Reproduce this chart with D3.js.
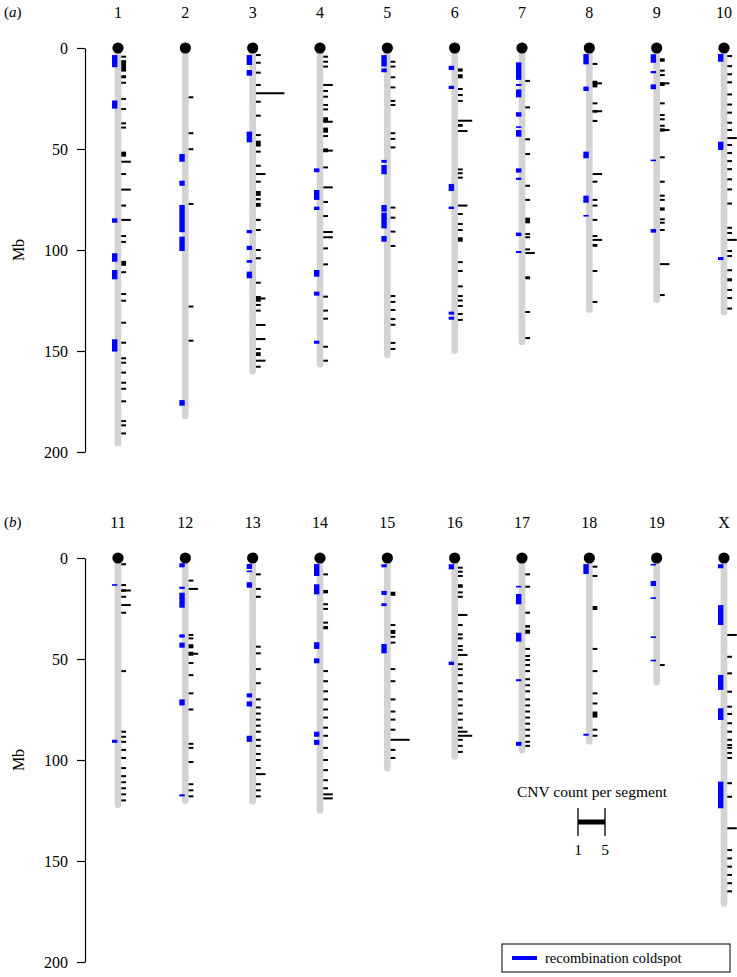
<!DOCTYPE html>
<html><head><meta charset="utf-8">
<script src="https://cdn.jsdelivr.net/npm/d3@7"></script>
<style>body{margin:0;background:#fff}</style>
</head><body>
<svg id="c" width="737" height="977"></svg>
<script>
const panelAChroms = ["1","2","3","4","5","6","7","8","9","10"];
const panelBChroms = ["11","12","13","14","15","16","17","18","19","X"];
const chromNames = panelAChroms.concat(panelBChroms);
const chromLengths = [195.5,182.1,160.0,156.5,151.8,149.7,145.4,129.4,124.6,130.7,122.1,120.1,120.4,124.9,104.0,98.2,95.0,90.7,61.4,171.0];
const axisTicks = [0,50,100,150,200];
const legendCounts = [1,5];

// recombination coldspots: [chrom, start Mb, end Mb]
const coldspots = [
["1",3.5,9.5],["1",26,30],["1",84.3,86.5],["1",101.6,105.8],["1",109.9,114.5],["1",144.2,150.3],
["2",52.5,56.3],["2",65.7,68.2],["2",77.7,91.2],["2",93.4,100.5],["2",174.3,177.1],
["3",3.5,8.4],["3",10.9,13.7],["3",41.4,46.7],["3",90.1,91.7],["3",97.9,100],["3",105,106.3],["3",110.7,114],
["4",59.6,61.5],["4",70.3,75.2],["4",78.5,80.2],["4",109.9,113.2],["4",120.6,122.6],["4",144.9,146.4],
["5",3.5,9.2],["5",10.1,12],["5",55.4,56.8],["5",57.9,62.5],["5",77.7,81],["5",81.5,89.3],["5",93.1,95.9],
["6",8.8,10.9],["6",18.7,20.3],["6",67.3,70.8],["6",78.5,79.7],["6",130.5,132],["6",133,134.5],
["7",7.1,15.8],["7",17.8,18.8],["7",20.5,24.4],["7",31.8,34],["7",38.9,39.4],["7",40.6,43.9],["7",59.6,61.7],["7",64.2,65.3],["7",91.4,93.1],["7",100.5,101.5],
["8",3,8.1],["8",19.1,21.3],["8",51.3,54.6],["8",73.1,76.6],["8",82.8,83.3],
["9",3.1,7.3],["9",11.4,12.5],["9",18,20.4],["9",55.4,55.9],["9",89.6,91.4],
["10",3,6.8],["10",46.4,50.5],["10",103.5,105],
["11",13,13.7],["11",90,91.5],
["12",2.6,4.6],["12",14.2,15.3],["12",17.2,24.6],["12",37.8,39.4],["12",41.9,44.4],["12",70,73],["12",117,118],
["13",3,5.4],["13",6.3,6.9],["13",12,14.7],["13",67,69],["13",71,73.5],["13",88,91],
["14",3,8.9],["14",13,18],["14",41.7,45],["14",49.7,52.1],["14",86,88.5],["14",90,92.5],
["15",3.1,4.6],["15",16.3,18.3],["15",22.4,23.8],["15",42.6,47.2],
["16",3.1,5.6],["16",51.3,53],
["17",13.9,14.5],["17",17.8,22.9],["17",37,41.4],["17",60,61],["17",91,93],
["18",3,7.9],["18",87,88],
["19",3.1,3.5],["19",11.4,13.9],["19",19.7,20],["19",39,39.4],["19",50.5,51],
["X",3.1,5.1],["X",23.3,33.2],["X",57.9,65.3],["X",74.4,80.2],["X",110.7,123.9]
];

// CNV segments: [chrom, start Mb, end Mb, count]
const cnvs = [
["1",4.3,4.3,1],["1",6,11.7,1],["1",13.5,15,1],["1",17.2,17.2,1],["1",25.2,25.2,1],["1",30.2,30.2,1],["1",37.3,37.3,1],["1",39.4,39.4,1],["1",51.3,53.8,1],["1",56.3,56.3,2],["1",62.4,62.4,1],["1",70.1,70.1,2],["1",78,78,1],["1",85.1,85.1,2],["1",93.1,93.1,1],["1",96,96,1],["1",105.4,107.8,1],["1",111,111,1],["1",121.8,121.8,1],["1",125.1,125.1,1],["1",136,136,1],["1",145.9,145.9,1],["1",153.6,153.6,1],["1",155.8,155.8,1],["1",160.7,160.7,1],["1",165.7,165.7,1],["1",168.7,168.7,1],["1",174.9,174.9,1],["1",184.7,184.7,1],["1",186.8,186.8,1],["1",190.8,190.8,1],
["2",24.4,24.4,1],["2",42.2,42.2,1],["2",50.1,50.1,1],["2",77.2,77.2,1],["2",128,128,1],["2",144.9,144.9,1],
["3",3.5,3.5,1],["3",7.3,7.3,1],["3",12.2,12.2,1],["3",18.3,18.3,1],["3",22.4,22.4,6],["3",26.6,26.6,1],["3",33.5,33.5,1],["3",43.1,43.1,1],["3",45.9,48.8,1],["3",51.3,51.3,1],["3",58.3,58.3,1],["3",62.4,62.4,2],["3",66.2,66.2,1],["3",70.8,73.2,1],["3",74.3,75.4,1],["3",76.7,78.6,1],["3",85.1,85.1,1],["3",90.1,90.1,1],["3",100,100,1],["3",104.1,104.1,1],["3",116.2,116.2,1],["3",122.8,125.6,1],["3",124,124,2],["3",127.2,127.2,1],["3",130,130,1],["3",137.1,137.1,2],["3",144.1,144.1,2],["3",149,149,1],["3",150.6,152.5,1],["3",154.8,154.8,2],["3",157.8,157.8,1],
["4",4.3,4.3,1],["4",6.8,6.8,1],["4",9.2,9.2,1],["4",18.3,18.3,2],["4",21.3,21.3,1],["4",24.1,24.1,1],["4",28.2,28.2,1],["4",30.4,30.4,1],["4",34.3,36.8,1],["4",36.5,36.5,2],["4",39.4,41.9,1],["4",43.6,43.6,1],["4",49.7,51.6,1],["4",50.8,50.8,2],["4",59.1,59.1,1],["4",69,69,2],["4",76.2,76.2,1],["4",83.2,83.2,1],["4",91.1,91.1,2],["4",93.7,93.7,2],["4",99.2,99.2,1],["4",107.1,107.1,1],["4",123.1,123.1,1],["4",130,130,1],["4",134,134,1],["4",147.9,147.9,1],["4",154.8,154.8,1],
["5",6.8,6.8,1],["5",9.2,9.2,1],["5",14.5,14.5,1],["5",19.5,19.5,1],["5",26.2,26.2,1],["5",28.2,28.2,1],["5",42.2,42.2,1],["5",45,45,1],["5",49.2,49.2,1],["5",79,79,1],["5",84,84,1],["5",90.9,90.9,1],["5",98,98,1],["5",122.8,122.8,1],["5",125.7,125.7,1],["5",129.7,129.7,1],["5",134.2,134.2,1],["5",137,137,1],["5",146,146,1],["5",149,149,1],
["6",10.1,11.7,1],["6",13,15,1],["6",20.3,20.3,1],["6",23.3,23.3,1],["6",26.2,26.2,1],["6",36,36,3],["6",37.6,39,1],["6",41.1,41.1,2],["6",60.1,60.1,1],["6",62,62,1],["6",64.2,64.2,1],["6",78,78,2],["6",82.2,82.2,1],["6",87.1,87.1,1],["6",90.1,90.1,1],["6",93.7,95.9,1],["6",106,106,1],["6",110.4,110.4,1],["6",118,118,1],["6",122.8,122.8,1],["6",125,125,1],["6",127.7,127.7,1],["6",131.7,131.7,1],["6",134.6,134.6,1],
["7",16.3,16.3,1],["7",29.4,29.4,1],["7",45.2,45.2,1],["7",52.5,52.5,1],["7",68.2,68.2,1],["7",75.2,75.2,1],["7",84,86.8,1],["7",92.1,92.1,1],["7",93.7,93.7,1],["7",99.7,99.7,1],["7",101.5,101.5,2],["7",113,114.5,1],["7",130.7,130.7,1],["7",143.6,143.6,1],
["8",7.9,7.9,1],["8",16.2,19.5,1],["8",17.5,17.5,2],["8",27.4,27.4,1],["8",30.7,32,1],["8",31.3,31.3,2],["8",36.1,36.1,1],["8",62.4,62.4,2],["8",66.2,66.2,1],["8",75.2,75.2,1],["8",78,78,1],["8",85.1,85.1,1],["8",93.1,93.1,1],["8",95,95,2],["8",97,98.4,1],["8",110.4,110.4,1],["8",125.7,125.7,1],
["9",5.1,6.8,1],["9",11.2,11.2,1],["9",13.4,13.4,1],["9",17,18.8,1],["9",17.5,17.5,2],["9",27.4,27.4,1],["9",33.2,33.2,1],["9",35.3,35.3,1],["9",38.5,38.5,1],["9",39.8,41.4,1],["9",40.6,40.6,2],["9",54.1,54.1,1],["9",66.2,66.2,1],["9",73.1,73.1,1],["9",75.2,75.2,1],["9",78.9,80.5,1],["9",84.8,84.8,1],["9",86.5,86.5,1],["9",90.1,90.1,1],["9",107,107,2],["9",122.3,122.3,1],
["10",4,4,1],["10",9,9,1],["10",13,13,1],["10",17,17,1],["10",23,23,1],["10",28,28,1],["10",32,32,1],["10",37,37,1],["10",40.6,40.6,1],["10",44.6,44.6,2],["10",48,48,1],["10",52,52,1],["10",56,56,1],["10",60,60,1],["10",65,65,1],["10",70,70,1],["10",77,77,1],["10",89,89,1],["10",91.6,91.6,1],["10",95,95,2],["10",100.5,100.5,1],["10",103,103,1],["10",110,110,1],["10",114,115.5,1],["10",119.8,119.8,1],["10",123.8,123.8,1],["10",129,129,1],
["11",3.1,3.1,1],["11",13.4,13.4,1],["11",15.5,16.7,1],["11",16.1,16.1,2],["11",19.2,19.2,1],["11",23.3,23.3,2],["11",27.1,27.1,1],["11",56,56,1],["11",86,86,1],["11",88.5,88.5,1],["11",91,91,1],["11",95,95,1],["11",99,99,1],["11",104,104,1],["11",108,108,1],["11",111,111,1],["11",114,114,1],["11",117,117,1],["11",120,120,1],
["12",11.2,11.2,1],["12",15.3,15.3,2],["12",38.1,38.1,1],["12",39.8,39.8,1],["12",42.7,44.7,1],["12",46.4,48.4,1],["12",47.4,47.4,2],["12",52,52,1],["12",58,58,1],["12",67,67,1],["12",75,75,1],["12",92,92,1],["12",94,94,1],["12",101,101,1],["12",112,112,1],["12",115,115,1],["12",118,118,1],
["13",8.1,8.1,1],["13",15.3,15.3,1],["13",19.2,19.2,1],["13",43.9,43.9,1],["13",47.2,47.2,1],["13",55,55,1],["13",62,62,1],["13",70,70,1],["13",74,74,1],["13",77,77,1],["13",80,80,1],["13",83,83,1],["13",86,86,1],["13",90,90,1],["13",93,93,1],["13",97,97,1],["13",100,100,1],["13",104,104,1],["13",107,107,2],["13",112,112,1],["13",115,115,1],["13",118,118,1],
["14",8.1,8.1,1],["14",15.8,17.5,1],["14",22.9,22.9,1],["14",25.2,25.2,1],["14",32,32,1],["14",33.7,35.3,1],["14",56,56,1],["14",61,61,1],["14",66,66,1],["14",70,70,1],["14",75,75,1],["14",79,79,1],["14",84,84,1],["14",88,88,1],["14",94,94,1],["14",100,100,1],["14",105,105,1],["14",110,110,1],["14",114,114,1],["14",117,117,2],["14",119,119,2],
["15",16.7,18.7,1],["15",33.2,33.2,1],["15",35.6,37.6,1],["15",39,39,1],["15",41.9,41.9,1],["15",55,55,1],["15",61,61,1],["15",70,70,1],["15",76,76,1],["15",80,80,1],["15",85,85,1],["15",90,90,4],["15",95,95,1],["15",99,99,1],
["16",4.8,4.8,1],["16",6.8,6.8,1],["16",8.9,8.9,1],["16",13,14.7,1],["16",17,17,1],["16",19.2,19.2,1],["16",28.2,28.2,2],["16",33.2,33.2,1],["16",37.8,37.8,1],["16",39.8,39.8,1],["16",43.6,43.6,1],["16",45.5,45.5,1],["16",47.5,48.5,2],["16",52.6,52.6,1],["16",55,55,1],["16",58,58,1],["16",62,62,1],["16",66,66,1],["16",70,70,1],["16",73,73,1],["16",77,77,1],["16",80,80,1],["16",84,84,1],["16",86,86,2],["16",88,88,3],["16",90,90,1],["16",93,93,1],["16",96,96,1],
["17",8.1,8.1,1],["17",14.2,14.2,1],["17",27.1,27.1,1],["17",33.2,34.5,1],["17",35.5,37.5,1],["17",45,45,1],["17",48.5,48.5,1],["17",50.5,50.5,1],["17",53,53,1],["17",56,56,1],["17",60,60,1],["17",63,63,1],["17",66,66,1],["17",70,70,1],["17",73,73,1],["17",76,76,1],["17",79,79,1],["17",82,82,1],["17",85,85,1],["17",88,88,1],["17",91,91,1],["17",93,93,1],
["18",4.3,4.3,1],["18",8.9,8.9,1],["18",23.8,25.7,1],["18",45,45,1],["18",56,56,1],["18",67,67,1],["18",72,72,1],["18",76,79,1],["18",85,85,1],["18",88,88,1],
["19",53,53,1],
["X",38.1,38.1,2],["X",48.9,48.9,1],["X",57.1,57.1,1],["X",66.2,66.2,1],["X",73.6,73.6,1],["X",77.2,77.2,1],["X",81.8,81.8,1],["X",86,86,1],["X",90,90,1],["X",92.6,92.6,1],["X",94,94,1],["X",96.5,96.5,1],["X",99,99,1],["X",111.5,111.5,1],["X",118.2,118.2,1],["X",133.8,133.8,2],["X",144.6,144.6,1],["X",148.7,148.7,1],["X",152.8,152.8,1],["X",156.9,156.9,1],["X",161,161,1],["X",165,165,1]
];

const FONT = "'Liberation Serif','Times New Roman',serif";
const svg = d3.select("#c");
svg.append("rect").attr("width",737).attr("height",977).attr("fill","#fff");

const lenOf = {};
chromNames.forEach((c,i)=> lenOf[c] = chromLengths[i]);
const cntLen = d3.scaleLinear().domain([0,6]).range([0,28.5]);

const panels = [
  {tag:"a", chroms:panelAChroms, top:48},
  {tag:"b", chroms:panelBChroms, top:558}
];

panels.forEach(p => {
  const y = d3.scaleLinear().domain([0,200]).range([p.top, p.top+404]);
  const x = d3.scalePoint().domain(p.chroms).range([118, 724]);
  const g = svg.append("g");

  const ax = g.append("g").attr("transform","translate(85,0)")
    .call(d3.axisLeft(y).tickValues(axisTicks).tickSize(8).tickSizeOuter(0).tickPadding(9));
  ax.selectAll("path,line").attr("stroke","#000").attr("stroke-width",1.2);
  ax.selectAll("text").attr("font-family",FONT).attr("font-size",16).attr("fill","#000");

  g.append("text").attr("transform",`translate(20,${y(100)}) rotate(-90)`)
    .attr("text-anchor","middle").attr("dominant-baseline","middle")
    .attr("font-family",FONT).attr("font-size",16).text("Mb");

  const tl = g.append("text").attr("x",4).attr("y",p.top-31)
    .attr("font-family",FONT).attr("font-size",15);
  tl.append("tspan").text("(");
  tl.append("tspan").attr("font-style","italic").text(p.tag);
  tl.append("tspan").text(")");

  g.selectAll(".cl").data(p.chroms).join("text")
    .attr("x",d=>x(d)).attr("y",p.top-30)
    .attr("text-anchor","middle").attr("font-family",FONT).attr("font-size",16)
    .text(d=>d);

  g.selectAll(".bar").data(p.chroms).join("line")
    .attr("x1",d=>x(d)).attr("x2",d=>x(d))
    .attr("y1",y(0)).attr("y2",d=>y(lenOf[d]))
    .attr("stroke","#d3d3d3").attr("stroke-width",6.7).attr("stroke-linecap","round");

  g.selectAll(".cs").data(coldspots.filter(d=>p.chroms.includes(d[0]))).join("rect")
    .attr("x",d=>x(d[0])-6).attr("width",5.4)
    .attr("y",d=>{const h=y(d[2])-y(d[1]); return h<1.6? (y(d[1])+y(d[2]))/2-0.8 : y(d[1]);})
    .attr("height",d=>Math.max(1.6,y(d[2])-y(d[1])))
    .attr("fill","#0000ff");

  g.selectAll(".cnv").data(cnvs.filter(d=>p.chroms.includes(d[0]))).join("rect")
    .attr("x",d=>x(d[0])+3.3).attr("width",d=>cntLen(d[3]))
    .attr("y",d=>{const h=y(d[2])-y(d[1]); return h<2? (y(d[1])+y(d[2]))/2-1 : y(d[1]);})
    .attr("height",d=>Math.max(2,y(d[2])-y(d[1])))
    .attr("fill","#000");

  g.selectAll(".cen").data(p.chroms).join("circle")
    .attr("cx",d=>x(d)).attr("cy",y(0)).attr("r",5.6).attr("fill","#000");
});

const lx = d3.scaleLinear().domain(legendCounts).range([578,605]);
const lg = svg.append("g");
lg.append("text").attr("x",592).attr("y",797).attr("text-anchor","middle")
  .attr("font-family",FONT).attr("font-size",15.5).text("CNV count per segment");
lg.append("line").attr("x1",lx(1)).attr("x2",lx(5)).attr("y1",822).attr("y2",822)
  .attr("stroke","#000").attr("stroke-width",5);
legendCounts.forEach(c=>{
  lg.append("line").attr("x1",lx(c)).attr("x2",lx(c)).attr("y1",808).attr("y2",836)
    .attr("stroke","#000").attr("stroke-width",1.3);
  lg.append("text").attr("x",lx(c)).attr("y",855).attr("text-anchor","middle")
    .attr("font-family",FONT).attr("font-size",15.5).text(c);
});

const bg = svg.append("g");
bg.append("rect").attr("x",502).attr("y",944).attr("width",228).attr("height",28)
  .attr("fill","#fff").attr("stroke","#000").attr("stroke-width",1);
bg.append("line").attr("x1",512).attr("x2",537).attr("y1",958).attr("y2",958)
  .attr("stroke","#0000ff").attr("stroke-width",4);
bg.append("text").attr("x",545).attr("y",963).attr("font-family",FONT).attr("font-size",14.5)
  .text("recombination coldspot");
</script>
</body></html>
